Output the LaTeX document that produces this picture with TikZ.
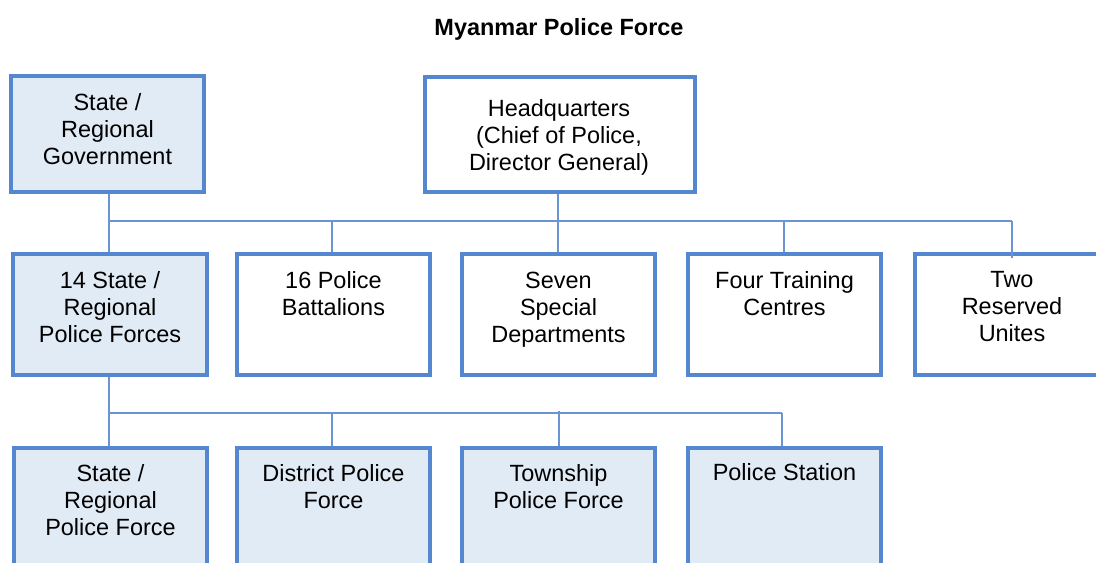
\documentclass[tikz,border=0pt]{standalone}
\usepackage{fontspec}
\setmainfont{Liberation Sans}
\usetikzlibrary{fit}
\definecolor{boxblue}{HTML}{5587D0}
\definecolor{lineblue}{HTML}{6A94D2}
\definecolor{fillblue}{HTML}{E1EBF6}
\begin{document}
\begin{tikzpicture}[x=0.75pt,y=-0.75pt,
  unit/.style={draw=boxblue, line width=2.5pt, inner sep=0pt, fill=white},
  shaded/.style={unit, fill=fillblue},
  label/.style={font=\fontsize{17.6}{20.25}\selectfont, align=center, inner sep=0pt, anchor=north},
  link/.style={draw=lineblue, line width=1.1pt}]
\clip (0,0) rectangle (1096,563);

% title
\node[font=\fontsize{17.6}{20.25}\selectfont\bfseries, inner sep=0pt, anchor=north] (title) at (559,18.5) {Myanmar Police Force};

% top level
\node[shaded, fit={(11,76) (204,192)}] (gov) {};
\node[unit, fit={(425,77) (695,192)}] (hq) {};
\node[label] (govt) at (gov.center |- 0,93.5) {State /\\Regional\\Government};
\node[label] (hqt) at (559,99.5) {Headquarters\\(Chief of Police,\\Director General)};

% second level
\node[shaded, fit={(13,254) (207,375)}] (srp) {};
\node[unit, fit={(237,254) (430,375)}] (bat) {};
\node[unit, fit={(462,254) (655,375)}] (dep) {};
\node[unit, fit={(688,254) (881,375)}] (trn) {};
\node[unit, fit={(915,254) (1109,375)}] (res) {};
\node[label] (srpt) at (srp.center |- 0,271.5) {14 State /\\Regional\\Police Forces};
\node[label] (batt) at (bat.center |- 0,271.5) {16 Police\\Battalions};
\node[label] (dept) at (dep.center |- 0,271.5) {Seven\\Special\\Departments};
\node[label] (trnt) at (trn.center |- 0,271.5) {Four Training\\Centres};
\node[label] (rest) at (1012,271.5) {Two\\Reserved\\Unites};

% third level
\node[shaded, fit={(14,448) (207,600)}] (spf) {};
\node[shaded, fit={(237,448) (430,600)}] (dpf) {};
\node[shaded, fit={(462,448) (655,600)}] (tpf) {};
\node[shaded, fit={(688,448) (881,600)}] (pst) {};
\node[label] (spft) at (spf.center |- 0,464.5) {State /\\Regional\\Police Force};
\node[label] (dpft) at (dpf.center |- 0,464.5) {District Police\\Force};
\node[label] (tpft) at (tpf.center |- 0,464.5) {Township\\Police Force};
\node[label] (pstt) at (pst.center |- 0,463.5) {Police Station};

% connectors from the top level
\coordinate (busA) at (0,221);
\coordinate (resin) at (1012,258);
\draw[link] (109,0 |- gov.south) -- (109,0 |- srp.north);
\draw[link] (558,0 |- hq.south) -- (558,0 |- dep.north);
\draw[link] (109,0 |- busA) -- (1012,0 |- busA);
\draw[link] (332,0 |- busA) -- (332,0 |- bat.north);
\draw[link] (784,0 |- busA) -- (784,0 |- trn.north);
\draw[link] (1012,0 |- busA) -- (resin);

% connectors to the third level
\coordinate (busB) at (0,413);
\draw[link] (109,0 |- srp.south) -- (109,0 |- spf.north);
\draw[link] (109,0 |- busB) -- (782,0 |- busB);
\draw[link] (332,0 |- busB) -- (332,0 |- dpf.north);
\draw[link] (559,411) -- (559,0 |- tpf.north);
\draw[link] (782,0 |- busB) -- (782,0 |- pst.north);
\end{tikzpicture}
\end{document}
